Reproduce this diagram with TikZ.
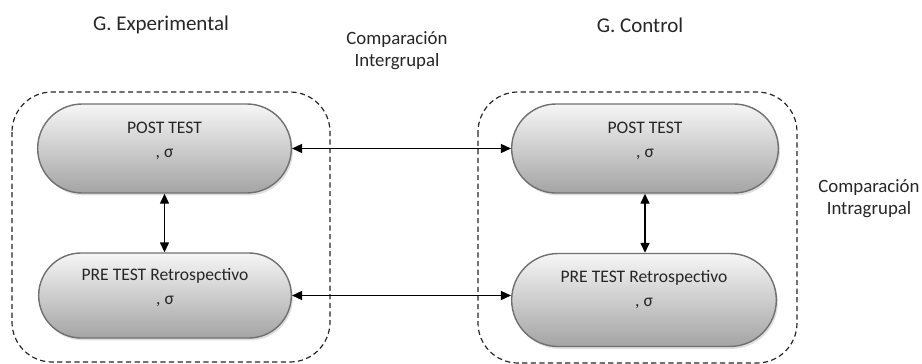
\documentclass[tikz,border=0pt]{standalone}
\usepackage{fontspec}
\setmainfont{Carlito}
\usepackage{xcolor}
\usetikzlibrary{arrows.meta,shapes.misc,shadows}
\definecolor{PillEdge}{HTML}{707070}
\definecolor{PillTop}{HTML}{F6F6F6}
\definecolor{PillBottom}{HTML}{A4A4A4}
\definecolor{InkGray}{HTML}{262626}
\tikzset{
  pill/.style={rounded rectangle, draw=PillEdge, line width=0.7pt,
    top color=PillTop, bottom color=PillBottom,
    drop shadow={shadow xshift=0.8pt, shadow yshift=-1.2pt, opacity=0.25}},
  pilltext/.style={align=center, text=InkGray, font=\fontsize{8.8}{12}\selectfont},
  grouplabel/.style={text=InkGray, font=\fontsize{10.5}{12}\selectfont},
  cmplabel/.style={align=center, text=InkGray, font=\fontsize{9.4}{11}\selectfont},
  cmparrow/.style={{Triangle[length=5pt,width=4.5pt]}-{Triangle[length=5pt,width=4.5pt]}, line width=0.7pt, draw=black},
  groupbox/.style={draw=InkGray, dash pattern=on 2.6pt off 1.7pt, line width=0.6pt, rounded corners=20pt}
}
\begin{document}
\begin{tikzpicture}[x=0.5pt,y=-0.5pt]
  \useasboundingbox (0,0) rectangle (922,364);

  % group frames
  \draw[groupbox] (12,92) rectangle (330,362);
  \draw[groupbox] (478,92) rectangle (797,363);

  % headings
  \node[grouplabel] (expLabel) at (161,25) {G. Experimental};
  \node[grouplabel] (ctrlLabel) at (640,25) {G. Control};
  \node[cmplabel] (interLabel) at (397,51) {Comparación\\Intergrupal};
  \node[cmplabel] (intraLabel) at (869,199) {Comparación\\Intragrupal};

  % tests, experimental group
  \node[pill, minimum width=133.5pt, minimum height=44.5pt] (postE) at (164.5,148.5) {};
  \node[pill, minimum width=133pt, minimum height=42.5pt] (preE) at (165,295.5) {};
  \node[pilltext] (postEtext) at ([yshift=4pt]postE.center) {POST TEST\\, σ};
  \node[pilltext] (preEtext) at ([yshift=4pt]preE.center) {PRE TEST Retrospectivo\\, σ};

  % tests, control group
  \node[pill, minimum width=140pt, minimum height=44.5pt] (postC) at (645,148.5) {};
  \node[pill, minimum width=139pt, minimum height=46.5pt] (preC) at (644,300) {};
  \node[pilltext] (postCtext) at ([yshift=4pt]postC.center) {POST TEST\\, σ};
  \node[pilltext] (preCtext) at ([yshift=5pt]preC.center) {PRE TEST Retrospectivo\\, σ};

  % comparisons
  \draw[cmparrow] (postE.east) -- (postE.east -| postC.west);
  \draw[cmparrow] (preE.east) -- (preE.east -| preC.west);
  \draw[cmparrow] (postE.south) -- (postE.south |- preE.north);
  \draw[cmparrow] (postC.south) -- (postC.south |- preC.north);
\end{tikzpicture}
\end{document}
